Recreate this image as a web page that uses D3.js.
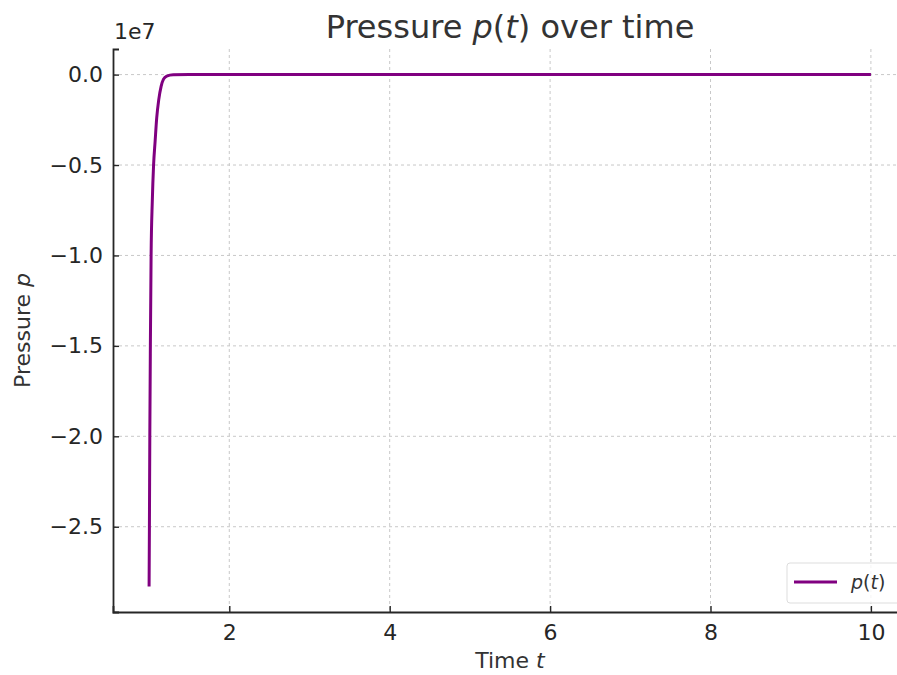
<!DOCTYPE html>
<html>
<head>
<meta charset="utf-8">
<script src="https://cdn.jsdelivr.net/npm/d3@7"></script>
<style>
  body { margin: 0; background: #fff; }
  svg { font-family: "DejaVu Sans", sans-serif; }
</style>
</head>
<body>
<div id="chart-area"></div>
<script>
// values (pressure in units of 1e7)
var times     = [1.000, 1.004, 1.009, 1.016, 1.025, 1.040, 1.056, 1.075, 1.095, 1.120, 1.150, 1.180, 1.220, 1.300, 1.5, 2, 4, 6, 8, 10]
var pressures = [-2.83, -2.50, -2.00, -1.50, -1.00, -0.70, -0.50, -0.37, -0.24, -0.14, -0.065, -0.025, -0.008, -0.001, 0, 0, 0, 0, 0, 0]
var xTicks = [2, 4, 6, 8, 10]
var yTicks = [0, -0.5, -1.0, -1.5, -2.0, -2.5]

var data = times.map(function(t, i) { return { t: t, p: pressures[i] } })

var margin = { left: 113, right: -10, top: 49, bottom: 63 }
var fullW = 897, fullH = 675
var width = fullW - margin.left - margin.right,
    height = fullH - margin.top - margin.bottom

var svg = d3.select("#chart-area").append("svg")
    .attr("width", fullW)
    .attr("height", fullH)

var g = svg.append("g")
    .attr("transform", "translate(" + margin.left + "," + margin.top + ")")

// matplotlib style 5% padding
var x = d3.scaleLinear().domain([0.55, 10.45]).range([0, width])
var y = d3.scaleLinear().domain([-2.9715, 0.1415]).range([height, 0])

// grid
g.append("g").selectAll("line").data(xTicks).enter().append("line")
  .attr("x1", function(d) { return x(d) }).attr("x2", function(d) { return x(d) })
  .attr("y1", 0).attr("y2", height)
  .attr("stroke", "#c8c8c8").attr("stroke-width", 1).attr("stroke-dasharray", "3,3")
g.append("g").selectAll("line").data(yTicks).enter().append("line")
  .attr("y1", function(d) { return y(d) }).attr("y2", function(d) { return y(d) })
  .attr("x1", 0).attr("x2", width)
  .attr("stroke", "#c8c8c8").attr("stroke-width", 1).attr("stroke-dasharray", "3,3")

// line
var line = d3.line()
  .x(function(d) { return x(d.t) })
  .y(function(d) { return y(d.p) })
  .curve(d3.curveMonotoneX)

g.append("path")
  .datum(data)
  .attr("fill", "none")
  .attr("stroke", "purple")
  .attr("stroke-width", 3)
  .attr("stroke-linejoin", "round")
  .attr("d", line)

// axes, ticks pointing inward
var xAxisCall = d3.axisBottom(x).tickValues(xTicks).tickSize(-6).tickPadding(12)
  .tickFormat(d3.format("d"))
var xAxisGroup = g.append("g")
  .attr("transform", "translate(0," + height + ")")
  .call(xAxisCall)

var yAxisCall = d3.axisLeft(y).tickValues(yTicks).tickSize(-6).tickPadding(10)
  .tickFormat(function(d) { return d3.format(".1f")(d).replace("-", "\u2212") })
var yAxisGroup = g.append("g").call(yAxisCall)

;[xAxisGroup, yAxisGroup].forEach(function(ax) {
  ax.select(".domain").attr("stroke", "#262626").attr("stroke-width", 1.8)
  ax.selectAll(".tick line").attr("stroke", "#262626").attr("stroke-width", 1.4)
  ax.selectAll(".tick text").attr("font-size", "22px").attr("fill", "#262626")
    .attr("font-family", "DejaVu Sans, sans-serif")
})

// offset text
g.append("text")
  .attr("x", 1).attr("y", -10)
  .attr("font-size", "22px").attr("fill", "#262626")
  .text("1e7")

// title
var title = svg.append("text")
  .attr("x", margin.left + width / 2).attr("y", 38)
  .attr("text-anchor", "middle")
  .attr("font-size", "32px").attr("fill", "#333")
title.append("tspan").text("Pressure ")
title.append("tspan").attr("font-style", "italic").text("p")
title.append("tspan").text("(")
title.append("tspan").attr("font-style", "italic").text("t")
title.append("tspan").text(") over time")

// axis labels
var xLabel = svg.append("text")
  .attr("x", margin.left + width / 2).attr("y", 668)
  .attr("text-anchor", "middle")
  .attr("font-size", "22px").attr("fill", "#333")
xLabel.append("tspan").text("Time ")
xLabel.append("tspan").attr("font-style", "italic").text("t")

var yLabel = svg.append("text")
  .attr("transform", "translate(30," + (margin.top + height / 2) + ") rotate(-90)")
  .attr("text-anchor", "middle")
  .attr("font-size", "22px").attr("fill", "#333")
yLabel.append("tspan").text("Pressure ")
yLabel.append("tspan").attr("font-style", "italic").text("p")

// legend
var legend = svg.append("g").attr("transform", "translate(787,563)")
legend.append("rect")
  .attr("width", 120).attr("height", 40).attr("rx", 3)
  .attr("fill", "#fff").attr("fill-opacity", 0.8)
  .attr("stroke", "#ddd").attr("stroke-width", 1)
legend.append("line")
  .attr("x1", 7).attr("x2", 50).attr("y1", 19).attr("y2", 19)
  .attr("stroke", "purple").attr("stroke-width", 3)
var lt = legend.append("text")
  .attr("x", 64).attr("y", 26)
  .attr("font-size", "19px").attr("fill", "#333")
lt.append("tspan").attr("font-style", "italic").text("p")
lt.append("tspan").text("(")
lt.append("tspan").attr("font-style", "italic").text("t")
lt.append("tspan").text(")")
</script>
</body>
</html>
